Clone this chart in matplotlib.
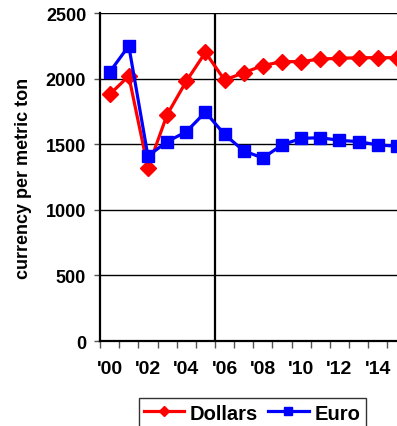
import numpy as np
from matplotlib import pyplot as plt
from matplotlib.ticker import FixedLocator

plt.rcParams['font.family'] = ['Liberation Sans', 'DejaVu Sans']
plt.rcParams['font.weight'] = 'bold'

# datos
anios = list(range(2000, 2016))
dolares = [1880, 2020, 1320, 1725, 1980, 2200, 1990, 2045, 2100, 2130,
           2130, 2150, 2155, 2160, 2160, 2160]
euro = [2050, 2250, 1410, 1520, 1595, 1745, 1575, 1450, 1395, 1495,
        1545, 1550, 1530, 1520, 1495, 1485]
etiquetas_x = ["'00", "'02", "'04", "'06", "'08", "'10", "'12", "'14"]

x = np.arange(len(anios))

fig = plt.figure(figsize=(3.97, 4.27), dpi=100)
# el eje se sale un poco por la derecha, como en el original
ax = fig.add_axes([0.252, 0.199, 0.772, 0.768])

ax.plot(x, dolares, color='#ff0000', lw=2.3, marker='D', markersize=8,
        label='Dollars', zorder=3)
ax.plot(x, euro, color='#0000ff', lw=2.3, marker='s', markersize=8,
        label='Euro', zorder=4)

# linea vertical entre 2005 y 2006
ax.axvline(5.5, color='black', lw=1.6, zorder=2)

ax.set_xlim(-0.5, 15.5)
ax.set_ylim(0, 2500)
ax.set_yticks([0, 500, 1000, 1500, 2000, 2500])
ax.yaxis.grid(True, color='black', lw=1)
ax.set_axisbelow(True)

# ticks en los limites de cada categoria, etiquetas centradas
ax.xaxis.set_major_locator(FixedLocator(np.arange(-0.5, 16, 1)))
ax.xaxis.set_minor_locator(FixedLocator(np.arange(0, 16, 2)))
ax.set_xticklabels([], minor=False)
ax.set_xticklabels(etiquetas_x, minor=True, fontsize=14, fontweight='bold')
ax.tick_params(axis='x', which='major', length=5, width=1, color='#555555',
               direction='out')
ax.tick_params(axis='x', which='minor', length=0, pad=14)
ax.tick_params(axis='y', length=4, width=1, color='#555555', pad=6,
               labelsize=13)
for lab in ax.get_yticklabels():
    lab.set_fontweight('bold')

for lado in ['top', 'right']:
    ax.spines[lado].set_visible(False)
ax.spines['left'].set_linewidth(1.6)
ax.spines['bottom'].set_linewidth(1.6)

ax.set_ylabel('currency per metric ton', fontsize=13, fontweight='bold',
              labelpad=10)

leg = fig.legend(loc='upper center', bbox_to_anchor=(0.635, 0.088), ncol=2,
                 frameon=True, fancybox=False, edgecolor='black',
                 prop={'size': 14.5, 'weight': 'bold'}, handlelength=2.0,
                 handletextpad=0.3, columnspacing=0.5, borderpad=0.25,
                 markerscale=0.7)
leg.get_frame().set_linewidth(1)

fig.savefig('out.png', dpi=100)
